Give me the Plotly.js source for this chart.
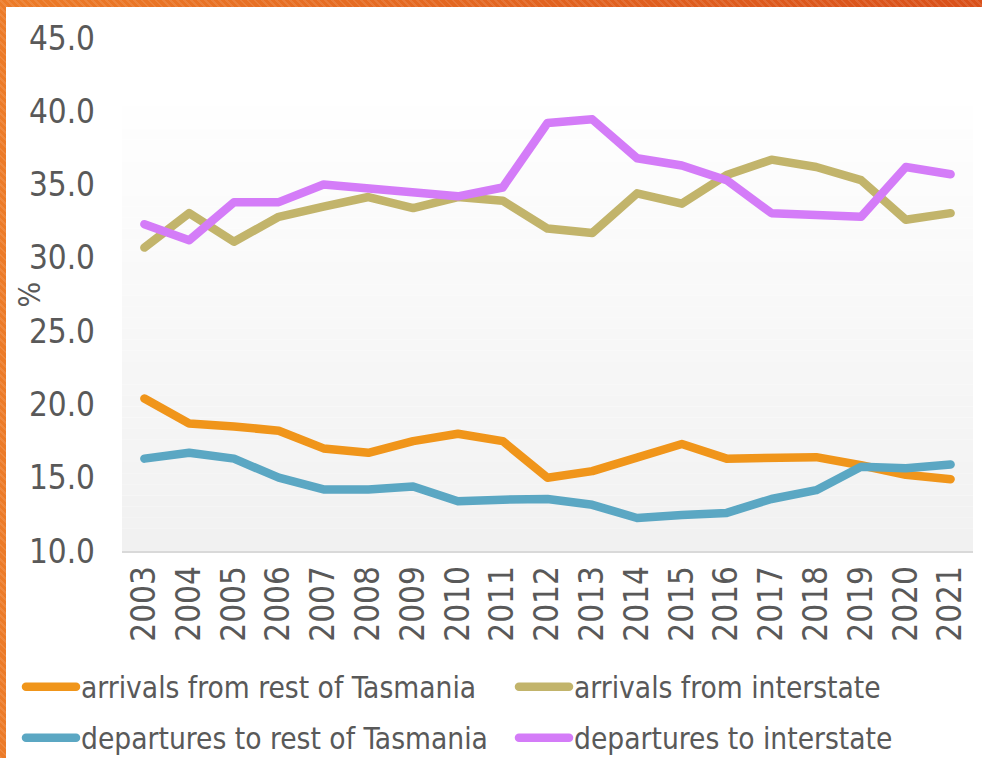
<!DOCTYPE html>
<html>
<head>
<meta charset="utf-8">
<script src="https://cdn.plot.ly/plotly-3.0.1.min.js"></script>
<style>
  html, body { margin: 0; padding: 0; }
  body {
    width: 982px; height: 758px; overflow: hidden; position: relative;
    background:
      repeating-linear-gradient(45deg, rgba(255,255,255,0.10) 0 2px, rgba(0,0,0,0) 2px 5px),
      linear-gradient(to right, #ec7b28, #d9501a);
  }
  #chart { position: absolute; left: 6px; top: 7px; width: 976px; height: 751px; background: #fff; }
  .scatterlayer .js-line, .legendlines path { stroke-linecap: round !important; stroke-linejoin: round !important; }
</style>
</head>
<body>
<div id="chart"></div>
<script>
const years = ['2003','2004','2005','2006','2007','2008','2009','2010','2011','2012','2013','2014','2015','2016','2017','2018','2019','2020','2021'];
const arrivalsRestTas = [20.4,18.7,18.5,18.2,17.0,16.7,17.5,18.0,17.5,15.0,15.45,16.4,17.3,16.3,16.35,16.4,15.85,15.2,14.9];
const arrivalsInterstate = [30.7,33.05,31.1,32.8,33.5,34.15,33.4,34.15,33.9,32.0,31.7,34.4,33.7,35.65,36.7,36.2,35.3,32.6,33.05];
const departuresRestTas = [16.3,16.7,16.3,15.0,14.2,14.2,14.4,13.4,13.5,13.55,13.15,12.25,12.45,12.6,13.55,14.15,15.75,15.65,15.9];
const departuresInterstate = [32.3,31.2,33.8,33.8,35.0,34.75,34.4,34.2,34.8,39.2,39.45,36.8,36.3,35.3,33.05,32.9,32.8,36.2,35.7];
const seriesNames = ['arrivals from rest of Tasmania','arrivals from interstate','departures to rest of Tasmania','departures to interstate'];
const seriesColors = ['#f0951a','#c2b46b','#5ba7c3','#d47cf8'];
const seriesValues = [arrivalsRestTas, arrivalsInterstate, departuresRestTas, departuresInterstate];
const seriesLegend = ['legend','legend2','legend3','legend4'];
const yAxisTitle = '%';

const FONT = '"DejaVu Sans Condensed", "DejaVu Sans", sans-serif';
const TXT = '#595959';

const traces = seriesValues.map((v, i) => ({
  type: 'scatter', mode: 'lines', x: years, y: v, name: seriesNames[i],
  legend: seriesLegend[i],
  line: { color: seriesColors[i], width: 8.5 }, hoverinfo: 'skip'
}));

// gradient background box + vertical gridlines (built from categories)
const boxTop = 0.867;
const shapes = [];
const N = 40;
for (let k = 0; k < N; k++) {
  const t = k / (N - 1);
  const c = Math.round(241 + (254 - 241) * t);
  shapes.push({ type: 'rect', xref: 'paper', yref: 'paper', x0: 0, x1: 1,
    y0: boxTop * k / N, y1: boxTop * (k + 1) / N, line: { width: 0 },
    fillcolor: `rgb(${c},${c},${c})`, layer: 'below' });
}
years.forEach(yr => shapes.push({ type: 'line', xref: 'x', yref: 'paper', x0: yr, x1: yr,
  y0: 0, y1: boxTop, line: { color: '#d9d9d9', width: 1.3 }, layer: 'below' }));

const legendBase = {
  orientation: 'h', xref: 'container', yref: 'container',
  xanchor: 'left', yanchor: 'top', bgcolor: 'rgba(0,0,0,0)', borderwidth: 0,
  font: { family: FONT, size: 29.6, color: TXT }, itemwidth: 50
};
const col1 = 15 / 976, col2 = 508 / 976;
const row1 = 1 - 654 / 751, row2 = 1 - 705 / 751;

const layout = {
  width: 976, height: 751,
  margin: { l: 116, r: 9, t: 31, b: 207 },
  paper_bgcolor: '#ffffff', plot_bgcolor: 'rgba(0,0,0,0)',
  font: { family: FONT, color: TXT, size: 33 },
  showlegend: true,
  xaxis: {
    type: 'category', range: [-0.5, 18.5], showgrid: false, zeroline: false,
    showline: true, linecolor: '#d9d9d9', linewidth: 2,
    tickangle: -90, tickfont: { family: FONT, size: 33, color: TXT },
    ticks: '', ticklabelstandoff: 0
  },
  yaxis: {
    range: [10, 45], dtick: 5, tick0: 10, tickformat: '.1f', showgrid: false, zeroline: false,
    showline: false, ticks: '', tickfont: { family: FONT, size: 33, color: TXT },
    ticklabelstandoff: 26
  },
  annotations: [{
    text: yAxisTitle, textangle: -90, showarrow: false,
    xref: 'paper', yref: 'paper', x: (23 - 116) / 851, y: 0.5, xanchor: 'center', yanchor: 'middle',
    font: { family: FONT, size: 30, color: TXT }
  }],
  legend: Object.assign({}, legendBase, { x: col1, y: row1 }),
  legend2: Object.assign({}, legendBase, { x: col2, y: row1 }),
  legend3: Object.assign({}, legendBase, { x: col1, y: row2 }),
  legend4: Object.assign({}, legendBase, { x: col2, y: row2 }),
  shapes: shapes
};

Plotly.newPlot('chart', traces, layout, { staticPlot: true });
</script>
</body>
</html>
